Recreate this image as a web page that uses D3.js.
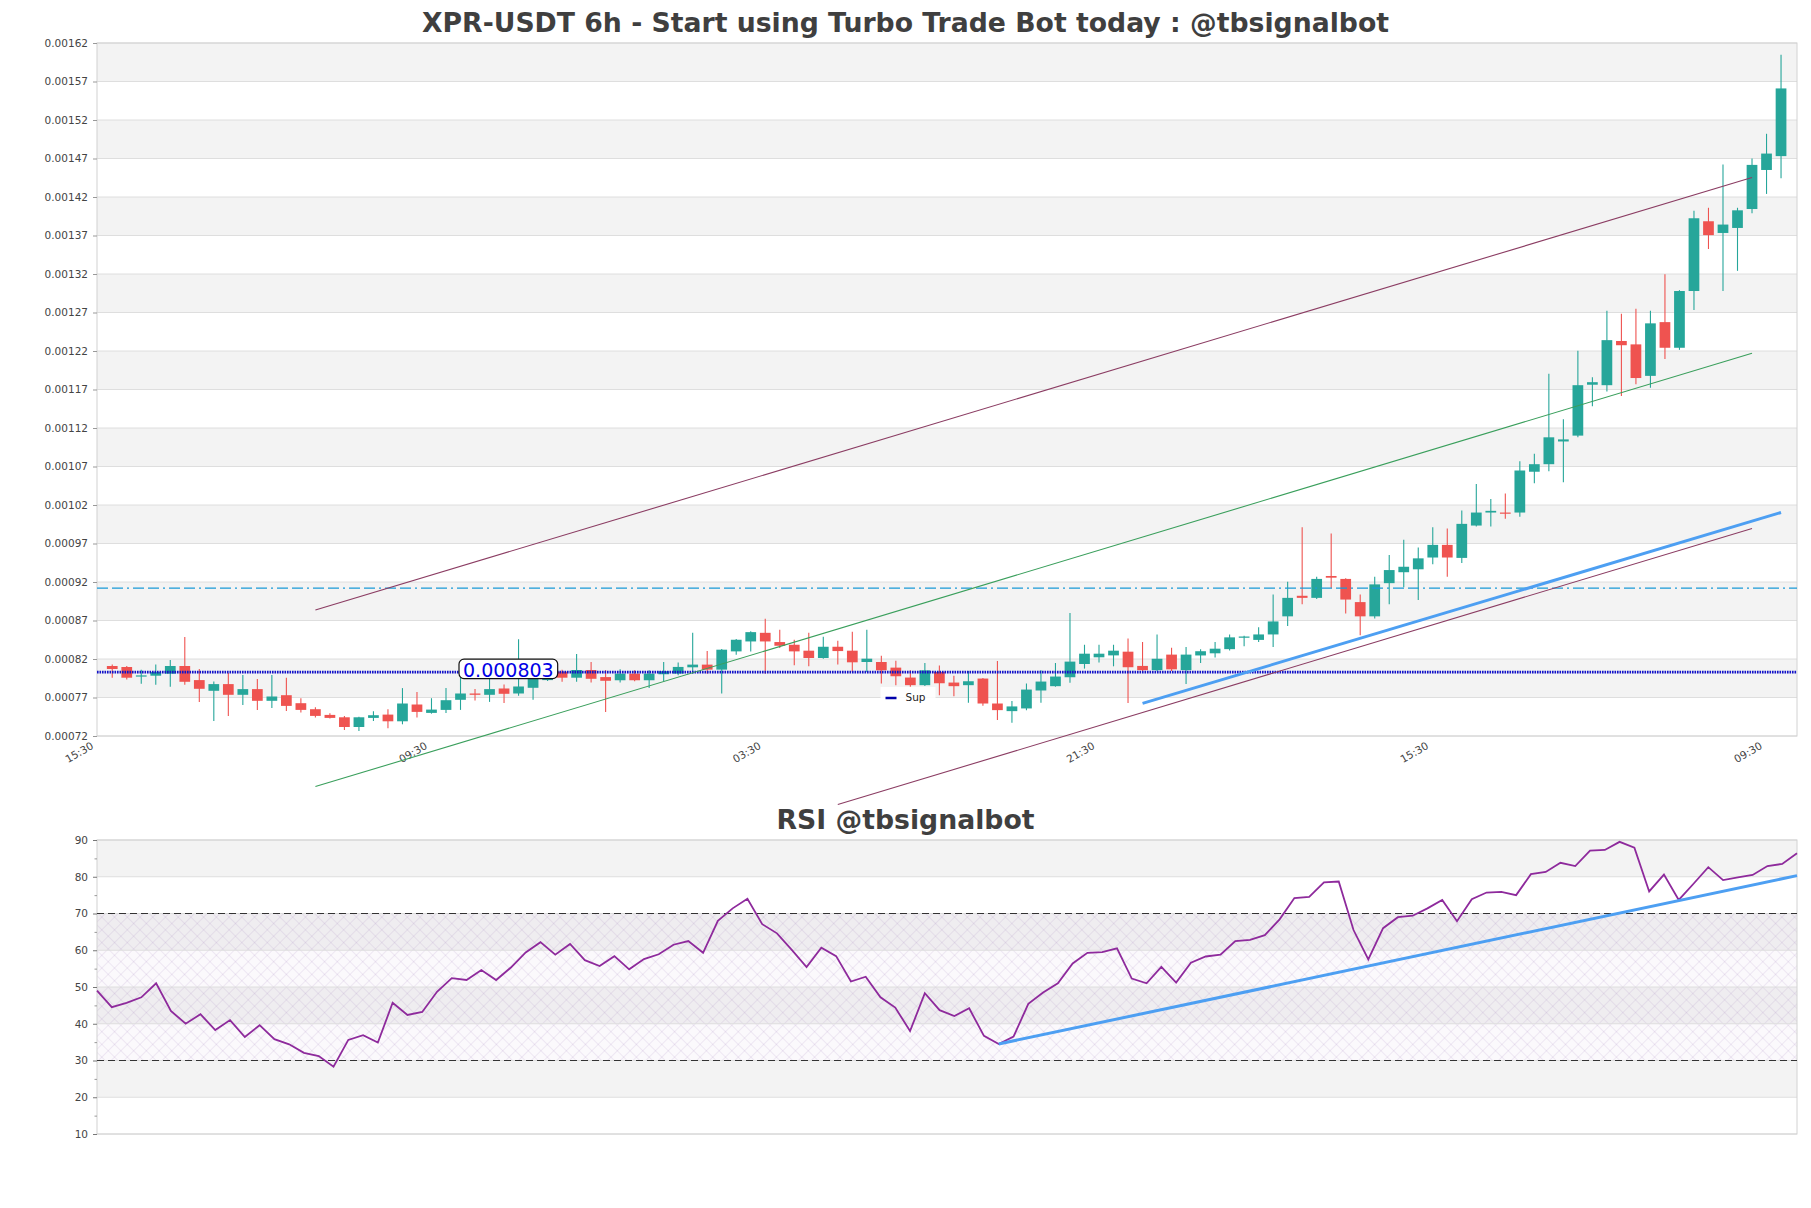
<!DOCTYPE html>
<html>
<head>
<meta charset="utf-8">
<script src="https://cdn.jsdelivr.net/npm/d3@7"></script>
<style>
html, body { margin: 0; padding: 0; background: #fff; }
svg { display: block; font-family: "DejaVu Sans", sans-serif; }
</style>
</head>
<body>
<svg id="chart" width="1811" height="1208"></svg>
<script>
const opens = [
  0.0008109, 0.0008096, 0.0007974, 0.0007983, 0.0008009, 0.0008109, 0.0007926, 0.0007787, 0.0007874, 0.0007735,
  0.0007809, 0.0007657, 0.0007730, 0.0007626, 0.0007548, 0.0007474, 0.0007443, 0.0007317, 0.0007435, 0.0007478,
  0.0007391, 0.0007609, 0.0007500, 0.0007539, 0.0007670, 0.0007752, 0.0007735, 0.0007817, 0.0007752, 0.0007826,
  0.0007926, 0.0008035, 0.0007957, 0.0008057, 0.0007965, 0.0007924, 0.0008010, 0.0007924, 0.0008002, 0.0008010,
  0.0008092, 0.0008127, 0.0008062, 0.0008299, 0.0008428, 0.0008540, 0.0008420, 0.0008385, 0.0008308, 0.0008213,
  0.0008359, 0.0008308, 0.0008161, 0.0008161, 0.0008088, 0.0007959, 0.0007860, 0.0008032, 0.0007894, 0.0007860,
  0.0007946, 0.0007622, 0.0007523, 0.0007558, 0.0007791, 0.0007847, 0.0007963, 0.0008135, 0.0008222, 0.0008247,
  0.0008295, 0.0008110, 0.0008055, 0.0008257, 0.0008055, 0.0008246, 0.0008274, 0.0008328, 0.0008476, 0.0008448,
  0.0008519, 0.0008754, 0.0009021, 0.0008994, 0.0009278, 0.0009240, 0.0008939, 0.0008754, 0.0009185, 0.0009327,
  0.0009365, 0.0009518, 0.0009682, 0.0009513, 0.0009933, 0.0010102, 0.0010102, 0.0010102, 0.0010632, 0.0010730,
  0.0011025, 0.0011101, 0.0011762, 0.0011756, 0.0012330, 0.0012286, 0.0011877, 0.0012575, 0.0012242, 0.0012979,
  0.0013885, 0.0013733, 0.0013798, 0.0014044, 0.0014551, 0.0014731
];
const highs = [
  0.0008130, 0.0008109, 0.0008061, 0.0008130, 0.0008187, 0.0008487, 0.0008070, 0.0007909, 0.0008017, 0.0007991,
  0.0007939, 0.0007991, 0.0007957, 0.0007691, 0.0007574, 0.0007496, 0.0007461, 0.0007450, 0.0007522, 0.0007548,
  0.0007822, 0.0007770, 0.0007691, 0.0007822, 0.0007965, 0.0007809, 0.0007961, 0.0007870, 0.0008457, 0.0008070,
  0.0007987, 0.0008061, 0.0008265, 0.0008161, 0.0008057, 0.0008066, 0.0008053, 0.0008053, 0.0008161, 0.0008153,
  0.0008540, 0.0008303, 0.0008330, 0.0008460, 0.0008560, 0.0008722, 0.0008579, 0.0008450, 0.0008540, 0.0008489,
  0.0008437, 0.0008553, 0.0008579, 0.0008243, 0.0008178, 0.0008053, 0.0008148, 0.0008114, 0.0007984, 0.0008045,
  0.0007954, 0.0008174, 0.0007653, 0.0007881, 0.0008053, 0.0008148, 0.0008799, 0.0008385, 0.0008385, 0.0008385,
  0.0008465, 0.0008421, 0.0008519, 0.0008345, 0.0008355, 0.0008328, 0.0008421, 0.0008519, 0.0008503, 0.0008612,
  0.0009038, 0.0009202, 0.0009911, 0.0009267, 0.0009829, 0.0009250, 0.0009038, 0.0009267, 0.0009551, 0.0009748,
  0.0009649, 0.0009911, 0.0009895, 0.0010130, 0.0010473, 0.0010277, 0.0010348, 0.0010768, 0.0010867, 0.0011904,
  0.0011314, 0.0012204, 0.0011860, 0.0012723, 0.0012684, 0.0012750, 0.0012723, 0.0013198, 0.0012990, 0.0014022,
  0.0014060, 0.0014622, 0.0014060, 0.0014699, 0.0015021, 0.0016047
];
const lows = [
  0.0007957, 0.0007935, 0.0007878, 0.0007865, 0.0007839, 0.0007865, 0.0007643, 0.0007396, 0.0007461, 0.0007604,
  0.0007539, 0.0007565, 0.0007526, 0.0007504, 0.0007439, 0.0007426, 0.0007278, 0.0007265, 0.0007396, 0.0007300,
  0.0007352, 0.0007439, 0.0007490, 0.0007500, 0.0007539, 0.0007661, 0.0007643, 0.0007630, 0.0007722, 0.0007670,
  0.0007913, 0.0007904, 0.0007904, 0.0007896, 0.0007513, 0.0007894, 0.0007911, 0.0007825, 0.0007911, 0.0007989,
  0.0008010, 0.0008010, 0.0007752, 0.0008256, 0.0008299, 0.0008010, 0.0008342, 0.0008118, 0.0008105, 0.0008204,
  0.0008127, 0.0008032, 0.0008032, 0.0007881, 0.0007860, 0.0007838, 0.0007850, 0.0007730, 0.0007717, 0.0007631,
  0.0007592, 0.0007407, 0.0007372, 0.0007536, 0.0007631, 0.0007840, 0.0007890, 0.0008075, 0.0008153, 0.0008105,
  0.0007629, 0.0008045, 0.0008040, 0.0008045, 0.0007875, 0.0008148, 0.0008219, 0.0008312, 0.0008366, 0.0008421,
  0.0008355, 0.0008628, 0.0008912, 0.0008980, 0.0009120, 0.0008792, 0.0008508, 0.0008727, 0.0008912, 0.0009131,
  0.0008967, 0.0009431, 0.0009267, 0.0009447, 0.0009922, 0.0009922, 0.0010020, 0.0010048, 0.0010484, 0.0010637,
  0.0010495, 0.0011079, 0.0011483, 0.0011675, 0.0011614, 0.0011767, 0.0011724, 0.0012095, 0.0012215, 0.0012734,
  0.0013525, 0.0012979, 0.0013241, 0.0013989, 0.0014240, 0.0014442
];
const closes = [
  0.0008070, 0.0007957, 0.0007987, 0.0008030, 0.0008109, 0.0007904, 0.0007813, 0.0007874, 0.0007735, 0.0007809,
  0.0007657, 0.0007713, 0.0007591, 0.0007539, 0.0007461, 0.0007435, 0.0007317, 0.0007443, 0.0007470, 0.0007391,
  0.0007622, 0.0007513, 0.0007543, 0.0007665, 0.0007752, 0.0007735, 0.0007809, 0.0007748, 0.0007843, 0.0007952,
  0.0007965, 0.0007957, 0.0008057, 0.0007943, 0.0007917, 0.0008010, 0.0007924, 0.0008010, 0.0008041, 0.0008097,
  0.0008127, 0.0008062, 0.0008321, 0.0008450, 0.0008549, 0.0008428, 0.0008372, 0.0008299, 0.0008213, 0.0008359,
  0.0008303, 0.0008157, 0.0008204, 0.0008053, 0.0007976, 0.0007860, 0.0008053, 0.0007885, 0.0007847, 0.0007911,
  0.0007622, 0.0007536, 0.0007584, 0.0007803, 0.0007907, 0.0007972, 0.0008166, 0.0008269, 0.0008269, 0.0008308,
  0.0008093, 0.0008055, 0.0008203, 0.0008066, 0.0008257, 0.0008301, 0.0008334, 0.0008481, 0.0008492, 0.0008519,
  0.0008688, 0.0008994, 0.0008994, 0.0009240, 0.0009256, 0.0008972, 0.0008754, 0.0009169, 0.0009355, 0.0009398,
  0.0009507, 0.0009682, 0.0009518, 0.0009955, 0.0010102, 0.0010124, 0.0010091, 0.0010648, 0.0010730, 0.0011079,
  0.0011052, 0.0011756, 0.0011795, 0.0012341, 0.0012275, 0.0011849, 0.0012559, 0.0012242, 0.0012979, 0.0013924,
  0.0013705, 0.0013842, 0.0014027, 0.0014617, 0.0014764, 0.0015610
];
const rsiValues = [
  49.0, 44.5, 45.7, 47.2, 51.0, 43.5, 40.0, 42.6, 38.3, 41.0,
  36.4, 39.6, 35.8, 34.4, 32.1, 31.2, 28.3, 35.6, 36.9, 34.9,
  45.7, 42.4, 43.2, 48.7, 52.4, 51.9, 54.6, 51.9, 55.3, 59.4,
  62.2, 58.8, 61.7, 57.3, 55.7, 58.4, 54.8, 57.6, 58.9, 61.5,
  62.5, 59.3, 68.0, 71.4, 74.0, 67.1, 64.6, 60.1, 55.4, 60.7,
  58.4, 51.5, 52.8, 47.2, 44.4, 38.0, 48.3, 43.7, 42.1, 44.2,
  36.7, 34.5, 36.5, 45.4, 48.5, 51.0, 56.4, 59.3, 59.5, 60.5,
  52.3, 51.0, 55.5, 51.2, 56.6, 58.3, 58.8, 62.5, 62.8, 64.1,
  68.4, 74.2, 74.5, 78.5, 78.7, 65.5, 57.5, 66.0, 69.0, 69.4,
  71.4, 73.7, 67.9, 73.9, 75.7, 75.9, 75.0, 80.7, 81.3, 83.8,
  82.9, 87.1, 87.3, 89.5, 87.9, 76.0, 80.6, 73.7, 78.1, 82.6,
  79.1, 79.8, 80.5, 82.9, 83.5, 86.4
];

const priceTicks = [0.00072, 0.00077, 0.00082, 0.00087, 0.00092, 0.00097, 0.00102, 0.00107, 0.00112,
  0.00117, 0.00122, 0.00127, 0.00132, 0.00137, 0.00142, 0.00147, 0.00152, 0.00157, 0.00162];
const rsiTicks = [10, 20, 30, 40, 50, 60, 70, 80, 90];
const rsiMinorTicks = [15, 25, 35, 45, 55, 65, 75, 85];
const timeTickIdx = [-1, 22, 45, 68, 91, 114];
const timeTickLabels = ['15:30', '09:30', '03:30', '21:30', '15:30', '09:30'];

// trend lines as [candle index, value]
const channelUpper = [[14, 0.0008836], [113, 0.0014453]];
const channelMid = [[14, 0.0006543], [113, 0.0012171]];
const channelLower = [[50, 0.0006310], [113, 0.0009896]];
const supportTrend = [[71, 0.0007623], [115, 0.0010103]];
const rsiTrend = [[61, 34.5], [115, 80.3]];
const supportLevel = 0.000803;
const resistLevel = 0.000912;
const overbought = 70;
const oversold = 30;

const W = 1811;
const main = { left: 97, right: 1797, top: 43, bottom: 736 };
const sub = { left: 97, right: 1797, top: 840, bottom: 1134 };
const UP = '#26a69a';
const DOWN = '#ef5350';
const BAND = '#f3f3f3';
const GRID = '#dedede';

const svg = d3.select('#chart');
const defs = svg.append('defs');
const hatch = defs.append('pattern')
  .attr('id', 'hatch')
  .attr('patternUnits', 'userSpaceOnUse')
  .attr('width', 9)
  .attr('height', 9)
  .attr('patternTransform', 'rotate(45)');
hatch.append('path')
  .attr('d', 'M0,0H9M0,0V9')
  .attr('stroke', 'rgba(150,110,175,0.32)')
  .attr('stroke-width', 0.8);

const x = d3.scaleLinear().domain([-1.05, 116.1]).range([main.left, main.right]);
const y = d3.scaleLinear().domain([priceTicks[0], priceTicks[priceTicks.length - 1]]).range([main.bottom, main.top]);
const xr = d3.scaleLinear().domain([0, rsiValues.length - 1]).range([sub.left, sub.right]);
const yr = d3.scaleLinear().domain([10, 90]).range([sub.bottom, sub.top]);

// ---- titles
svg.append('text')
  .attr('x', W / 2).attr('y', 32)
  .attr('text-anchor', 'middle')
  .attr('font-size', 26.7).attr('font-weight', 'bold').attr('fill', '#3f3f3f')
  .text('XPR-USDT 6h - Start using Turbo Trade Bot today : @tbsignalbot');
svg.append('text')
  .attr('x', W / 2).attr('y', 829)
  .attr('text-anchor', 'middle')
  .attr('font-size', 26.7).attr('font-weight', 'bold').attr('fill', '#3f3f3f')
  .text('RSI @tbsignalbot');

// ---- main panel background
const gMain = svg.append('g');
const bands = d3.pairs(priceTicks);
gMain.selectAll('rect.band')
  .data(bands)
  .join('rect')
  .attr('class', 'band')
  .attr('x', main.left).attr('width', main.right - main.left)
  .attr('y', d => y(d[1])).attr('height', d => y(d[0]) - y(d[1]))
  .attr('fill', (d, k) => k % 2 ? BAND : '#fff');
gMain.selectAll('line.grid')
  .data(priceTicks)
  .join('line')
  .attr('class', 'grid')
  .attr('x1', main.left).attr('x2', main.right)
  .attr('y1', d => y(d)).attr('y2', d => y(d))
  .attr('stroke', GRID);
gMain.append('rect')
  .attr('x', main.left).attr('y', main.top)
  .attr('width', main.right - main.left).attr('height', main.bottom - main.top)
  .attr('fill', 'none').attr('stroke', '#d2d2d2');

const yAxis = gMain.append('g')
  .attr('transform', `translate(${main.left},0)`)
  .call(d3.axisLeft(y).tickValues(priceTicks).tickFormat(d3.format('.5f')).tickSize(4).tickPadding(5));
yAxis.select('.domain').remove();
yAxis.selectAll('line').attr('stroke', '#999');
yAxis.selectAll('text').attr('font-size', 10.5).attr('fill', '#444').attr('font-family', 'DejaVu Sans');

gMain.selectAll('text.xlab')
  .data(timeTickIdx)
  .join('text')
  .attr('class', 'xlab')
  .attr('transform', d => `translate(${x(d) - 3.5},${main.bottom + 12}) rotate(-30)`)
  .attr('text-anchor', 'end')
  .attr('font-size', 10.5).attr('fill', '#444')
  .text((d, k) => timeTickLabels[k]);

// ---- candles
const step = x(1) - x(0);
const bodyW = step * 0.74;
const idx = d3.range(opens.length);
const candle = gMain.append('g').selectAll('g')
  .data(idx)
  .join('g');
candle.append('line')
  .attr('x1', i => x(i)).attr('x2', i => x(i))
  .attr('y1', i => y(highs[i])).attr('y2', i => y(lows[i]))
  .attr('stroke', i => closes[i] >= opens[i] ? UP : DOWN)
  .attr('stroke-width', 1.1);
candle.append('rect')
  .attr('x', i => x(i) - bodyW / 2).attr('width', bodyW)
  .attr('y', i => y(Math.max(opens[i], closes[i])))
  .attr('height', i => Math.max(1.2, Math.abs(y(opens[i]) - y(closes[i]))))
  .attr('fill', i => closes[i] >= opens[i] ? UP : DOWN);

// ---- levels and trend lines
const line = d3.line().x(d => x(d[0])).y(d => y(d[1]));
gMain.append('line')
  .attr('x1', main.left).attr('x2', main.right)
  .attr('y1', y(resistLevel)).attr('y2', y(resistLevel))
  .attr('stroke', '#1a9ad8').attr('stroke-width', 1.3)
  .attr('stroke-dasharray', '11,4,11,4,2,4');
gMain.append('line')
  .attr('x1', main.left).attr('x2', main.right)
  .attr('y1', y(supportLevel)).attr('y2', y(supportLevel))
  .attr('stroke', '#1212c8').attr('stroke-width', 2.6)
  .attr('stroke-dasharray', '1.6,0.9');
gMain.append('path').datum(channelUpper).attr('d', line)
  .attr('fill', 'none').attr('stroke', '#8b3d63').attr('stroke-width', 1.1);
gMain.append('path').datum(channelLower).attr('d', line)
  .attr('fill', 'none').attr('stroke', '#8b3d63').attr('stroke-width', 1.1);
gMain.append('path').datum(channelMid).attr('d', line)
  .attr('fill', 'none').attr('stroke', '#3a9f5c').attr('stroke-width', 1.1);
gMain.append('path').datum(supportTrend).attr('d', line)
  .attr('fill', 'none').attr('stroke', '#4d9ff2').attr('stroke-width', 3);

// price tag on the support level
const tag = gMain.append('g');
const tagText = tag.append('text')
  .attr('x', x(24) + 2.5).attr('y', y(supportLevel) + 4.5)
  .attr('font-size', 19).attr('fill', '#0000e6')
  .text(supportLevel.toFixed(6));
const tb = tagText.node().getBBox();
tag.insert('rect', 'text')
  .attr('x', tb.x - 4).attr('y', y(supportLevel) - 13)
  .attr('width', tb.width + 8).attr('height', 19.5)
  .attr('rx', 5)
  .attr('fill', '#fff').attr('stroke', '#111').attr('stroke-width', 1.2);

// legend
const legend = gMain.append('g')
  .attr('transform', `translate(${W / 2 - 25},${main.bottom - 49})`);
legend.append('rect').attr('width', 55).attr('height', 16).attr('fill', '#fff').attr('opacity', 0.85);
legend.append('line').attr('x1', 5).attr('x2', 16).attr('y1', 11).attr('y2', 11)
  .attr('stroke', '#0000aa').attr('stroke-width', 2.5);
legend.append('text').attr('x', 25).attr('y', 14).attr('font-size', 10.5).attr('fill', '#222').text('Sup');

// ---- RSI panel
const gSub = svg.append('g');
gSub.selectAll('rect.band')
  .data(d3.pairs(rsiTicks))
  .join('rect')
  .attr('class', 'band')
  .attr('x', sub.left).attr('width', sub.right - sub.left)
  .attr('y', d => yr(d[1])).attr('height', d => yr(d[0]) - yr(d[1]))
  .attr('fill', (d, k) => k % 2 ? BAND : '#fff');
gSub.append('rect')
  .attr('x', sub.left).attr('width', sub.right - sub.left)
  .attr('y', yr(overbought)).attr('height', yr(oversold) - yr(overbought))
  .attr('fill', 'rgba(120,60,160,0.03)');
gSub.append('rect')
  .attr('x', sub.left).attr('width', sub.right - sub.left)
  .attr('y', yr(overbought)).attr('height', yr(oversold) - yr(overbought))
  .attr('fill', 'url(#hatch)');
gSub.selectAll('line.grid')
  .data(rsiTicks)
  .join('line')
  .attr('class', 'grid')
  .attr('x1', sub.left).attr('x2', sub.right)
  .attr('y1', d => yr(d)).attr('y2', d => yr(d))
  .attr('stroke', GRID);
gSub.append('rect')
  .attr('x', sub.left).attr('y', sub.top)
  .attr('width', sub.right - sub.left).attr('height', sub.bottom - sub.top)
  .attr('fill', 'none').attr('stroke', '#d2d2d2');

const rAxis = gSub.append('g')
  .attr('transform', `translate(${sub.left},0)`)
  .call(d3.axisLeft(yr).tickValues(rsiTicks).tickSize(4).tickPadding(5));
rAxis.select('.domain').remove();
rAxis.selectAll('line').attr('stroke', '#777');
rAxis.selectAll('text').attr('font-size', 10.5).attr('fill', '#444').attr('font-family', 'DejaVu Sans');
const rMinor = gSub.append('g')
  .attr('transform', `translate(${sub.left},0)`)
  .call(d3.axisLeft(yr).tickValues(rsiMinorTicks).tickSize(2.5).tickFormat(''));
rMinor.select('.domain').remove();
rMinor.selectAll('line').attr('stroke', '#999');

[overbought, oversold].forEach(v => {
  gSub.append('line')
    .attr('x1', sub.left).attr('x2', sub.right)
    .attr('y1', yr(v)).attr('y2', yr(v))
    .attr('stroke', '#333').attr('stroke-width', 1.2)
    .attr('stroke-dasharray', '7,4');
});

gSub.append('path')
  .datum(rsiValues)
  .attr('d', d3.line().x((d, j) => xr(j)).y(d => yr(d)))
  .attr('fill', 'none').attr('stroke', '#8e2a9c').attr('stroke-width', 1.8);
gSub.append('path')
  .datum(rsiTrend)
  .attr('d', d3.line().x(d => xr(d[0])).y(d => yr(d[1])))
  .attr('fill', 'none').attr('stroke', '#4d9ff2').attr('stroke-width', 3);
</script>
</body>
</html>
